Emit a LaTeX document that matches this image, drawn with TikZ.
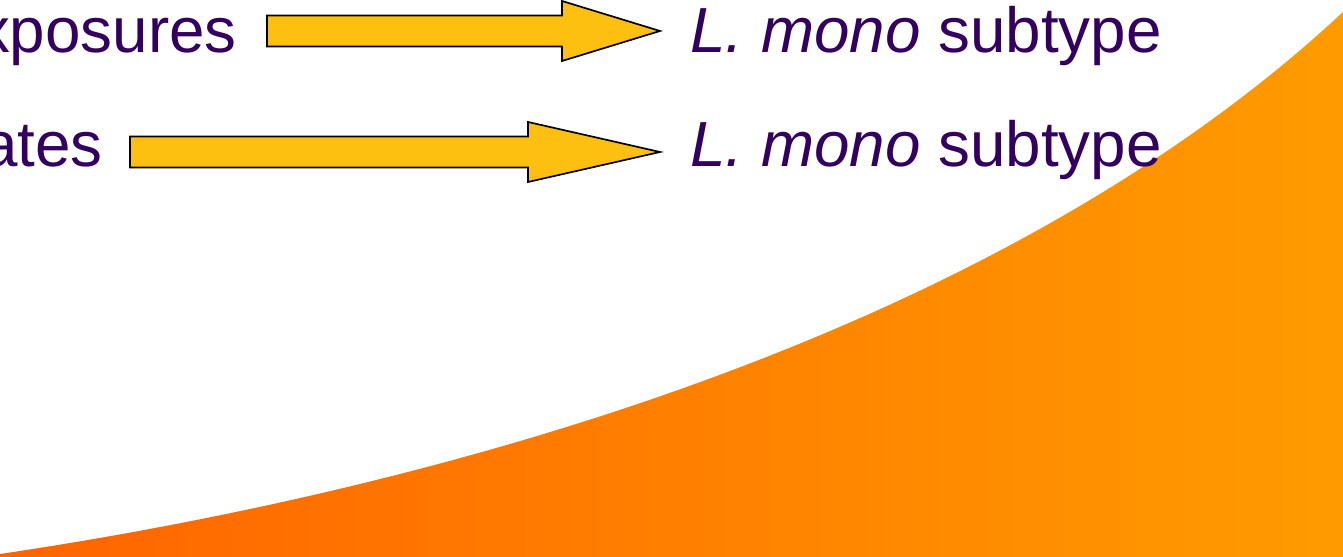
\documentclass[tikz,border=0pt]{standalone}
\usepackage{fontspec}
\setmainfont{Liberation Sans}
\usetikzlibrary{positioning}
\usetikzlibrary{calc}

\definecolor{txtpurple}{RGB}{51,0,96}
\definecolor{arrowyellow}{RGB}{253,192,16}
\definecolor{swooshleft}{RGB}{255,100,0}
\definecolor{swooshright}{RGB}{255,155,0}

\tikzset{txt/.style = {text=txtpurple, inner sep=0pt,
                       font=\fontsize{64}{77}\selectfont},
         fatarrow/.style = {fill=arrowyellow, draw=black, line width=1.7pt, line join=miter}}

% block arrow from #1 to the tip #2, head length #3
\newcommand{\blockarrow}[3]{%
  \draw[fatarrow] ($(#1)+(0,15.5)$) -- ($(#2)+(-#3,15.5)$) -- ($(#2)+(-#3,30)$)
    -- (#2) -- ($(#2)+(-#3,-30)$) -- ($(#2)+(-#3,-15.5)$) -- ($(#1)+(0,-15.5)$) -- cycle;}

\begin{document}
\begin{tikzpicture}[x=1bp, y=1bp]
  \useasboundingbox (0,0) rectangle (1343,557);
  \clip (0,0) rectangle (1343,557);

  % orange swoosh
  \shade[left color=swooshleft, right color=swooshright]
    (0,3) .. controls (450,70) and (1000,225) .. (1343,545) -- (1343,0) -- (0,0) -- cycle;

  \node[txt, anchor=base east] (exp)  at (237,504) {xposures};
  \node[txt, anchor=base west] (sub1) at (690,504) {\textit{L. mono} subtype};
  \node[txt, anchor=base east] (iso)  at (103,390) {ates};
  \node[txt, anchor=base west] (sub2) at (690,390) {\textit{L. mono} subtype};

  \coordinate (a1s) at ($(exp.base east)+(30,22)$);
  \coordinate (a1e) at ($(sub1.base west)+(-30,22)$);
  \coordinate (a2s) at ($(iso.base east)+(27,15)$);
  \coordinate (a2e) at ($(sub2.base west)+(-30,15)$);

  \blockarrow{a1s}{a1e}{98}
  \blockarrow{a2s}{a2e}{132}
\end{tikzpicture}
\end{document}
